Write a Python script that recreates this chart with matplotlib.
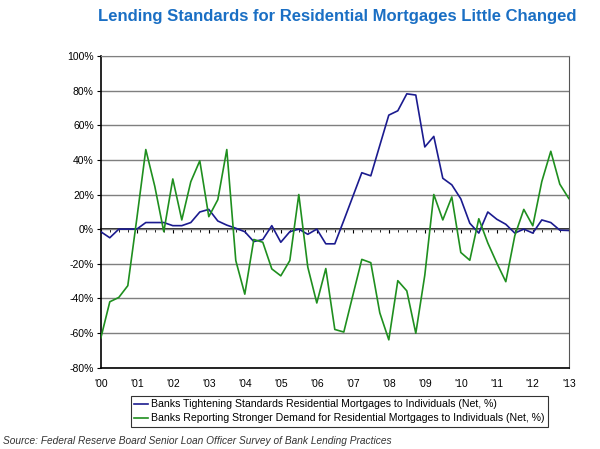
import numpy as np
import matplotlib
matplotlib.use("Agg")
import matplotlib.pyplot as plt
from matplotlib.ticker import FuncFormatter

plt.rcParams["font.family"] = ["Liberation Sans", "DejaVu Sans"]

# quarterly observations, 2000 Q1 .. 2013 Q1
quarters = np.arange(2000, 2013.01, 0.25)

tightening = [
    -1.5, -5, 0, 0, 0, 3.8, 3.8, 3.8, 2, 2, 3.8, 9.9, 11.4, 4.7,
    2.3, 0.5, -1.5, -7.2, -6, 2, -7.6, -1.5, 0, -3, 0, -8.5, -8.5,
    5, 18.8, 32.6, 30.8, 48.4, 65.9, 68.4, 78.2, 77.5, 47.5, 53.6,
    29.4, 25.6, 17.5, 3.4, -2.3, 9.9, 5.7, 2.8, -2.3, 0, -2.3, 5.3,
    3.8, -0.6, -0.8,
]
demand = [
    -63, -42, -39.5, -32.7, 6, 46, 24.7, -1.5, 29, 5.3, 27.4, 39.5,
    7.2, 17, 46, -18.2, -37.6, -6, -7.6, -23, -27, -18.2, 20, -22,
    -42.7, -22.8, -58, -59.5, -38.4, -17.5, -19.4, -48.4, -64, -29.8,
    -35.7, -60.2, -26.6, 20, 5.3, 18.6, -13.5, -18, 6, -8, -19.6,
    -30.4, -3.8, 11.4, 1.9, 27.5, 45, 26, 17.7,
]

years = np.arange(2000, 2014)
y_ticks = np.arange(-80, 101, 20)

fig = plt.figure(figsize=(6, 4.49), dpi=100)
ax = fig.add_axes([0.168, 0.1815, 0.78, 0.6935])

ax.plot(quarters, tightening, color="#1b1b8f", lw=1.2, zorder=3,
        label="Banks Tightening Standards Residential Mortgages to Individuals (Net, %)")
ax.plot(quarters, demand, color="#1f8f1f", lw=1.2, zorder=3,
        label="Banks Reporting Stronger Demand for Residential Mortgages to Individuals (Net, %)")

ax.set_xlim(2000, 2013)
ax.set_ylim(-80, 100)
ax.set_yticks(y_ticks)
ax.yaxis.set_major_formatter(FuncFormatter(lambda v, p: f"{v:.0f}%"))
ax.set_xticks(years)
ax.xaxis.set_major_formatter(FuncFormatter(lambda v, p: f"'{int(v) % 100:02d}"))
ax.tick_params(axis="x", length=0, pad=8, labelsize=7.5)
ax.tick_params(axis="y", length=3, width=0.8, labelsize=7.5, pad=2)
ax.grid(axis="y", color="#7f7f7f", lw=1)
ax.set_axisbelow(True)

for s in ["left", "bottom"]:
    ax.spines[s].set_color("black")
    ax.spines[s].set_linewidth(1.2)
ax.spines["right"].set_color("#555555")
ax.spines["top"].set_color("#7f7f7f")

# zero line with quarterly tick marks
zero = ax.secondary_xaxis(80 / 180)
zero.set_xticks(years)
zero.set_xticks(quarters, minor=True)
zero.tick_params(which="major", direction="out", length=3, width=0.8, labelbottom=False)
zero.tick_params(which="minor", direction="out", length=2, width=0.6)
zero.xaxis.set_ticklabels([])
zero.spines["bottom"].set_color("black")
zero.spines["bottom"].set_linewidth(1.2)

fig.suptitle("Lending Standards for Residential Mortgages Little Changed",
             x=0.562, y=0.98, fontsize=12, fontweight="bold", color="#1a6fc4")

leg = ax.legend(loc="upper center", bbox_to_anchor=(0.51, -0.09), fontsize=7.6,
                frameon=True, fancybox=False, edgecolor="black", handlelength=1.3,
                handletextpad=0.3, borderpad=0.35, labelspacing=0.4, borderaxespad=0)
leg.get_frame().set_linewidth(0.8)

fig.text(0.005, 0.012, "Source: Federal Reserve Board Senior Loan Officer Survey of Bank Lending Practices",
         fontsize=7.3, style="italic", color="#333333")

fig.savefig("out.png", dpi=100)
